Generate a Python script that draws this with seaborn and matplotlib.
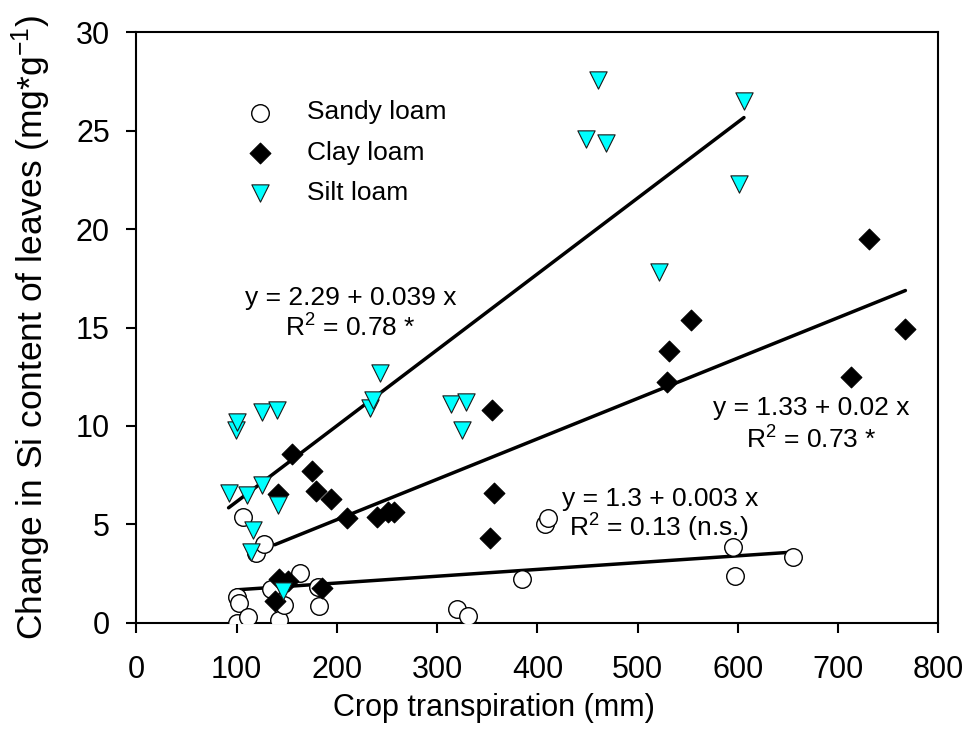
#Si content change vs crop transpiration for three soil types
import numpy as np
import pandas as pd
import matplotlib.pyplot as plt
import seaborn as sns

# values (x = crop transpiration mm, y = change in Si mg/g)
sandy_x = [100, 102, 100, 106, 111, 119, 127, 134, 142, 147, 163, 181, 182, 320, 331, 385, 408, 411, 595, 597, 655]
sandy_y = [1.3, 1.0, 0.0, 5.35, 0.3, 3.55, 4.0, 1.7, 0.15, 0.9, 2.5, 1.8, 0.85, 0.7, 0.35, 2.2, 5.0, 5.3, 3.85, 2.35, 3.35]

clay_x = [138, 142, 151, 185, 141, 155, 175, 179, 194, 210, 240, 251, 257, 353, 355, 357, 529, 531, 553, 713, 731, 767]
clay_y = [1.1, 2.2, 2.1, 1.75, 6.55, 8.55, 7.7, 6.7, 6.3, 5.3, 5.35, 5.6, 5.6, 4.3, 10.8, 6.6, 12.25, 13.8, 15.4, 12.5, 19.5, 14.9]

silt_x = [92, 99, 100, 110, 114, 116, 125, 125, 140, 141, 146, 233, 236, 243, 314, 325, 329, 448, 460, 468, 521, 601, 606]
silt_y = [6.6, 9.8, 10.2, 6.5, 3.6, 4.7, 10.7, 7.0, 10.8, 6.0, 1.6, 10.9, 11.3, 12.7, 11.1, 9.8, 11.2, 24.6, 27.6, 24.4, 17.8, 22.3, 26.5]

x_ticks = [0, 100, 200, 300, 400, 500, 600, 700, 800]
y_ticks = [0, 5, 10, 15, 20, 25, 30]

sns.set_style("ticks")
plt.rcParams['font.family'] = ['Liberation Sans', 'DejaVu Sans']
plt.rcParams['mathtext.fontset'] = 'custom'
plt.rcParams['mathtext.rm'] = 'Liberation Sans'
plt.rcParams['mathtext.it'] = 'Liberation Sans:italic'
plt.rcParams['mathtext.default'] = 'regular'
plt.rcParams['text.color'] = 'black'
plt.rcParams['axes.labelcolor'] = 'black'
plt.rcParams['xtick.color'] = 'black'
plt.rcParams['ytick.color'] = 'black'

fig, ax = plt.subplots(figsize=(9.69, 7.36), dpi=100)
fig.subplots_adjust(left=0.1407, right=0.9685, bottom=0.154, top=0.956)

# regression lines first so the markers sit on top
for xs, ys in [(sandy_x, sandy_y), (clay_x, clay_y), (silt_x, silt_y)]:
    sns.regplot(x=np.array(xs), y=np.array(ys), scatter=False, ci=None, truncate=True,
                color='black', line_kws={'linewidth': 2.5, 'zorder': 1}, ax=ax)

sns.scatterplot(x=sandy_x, y=sandy_y, marker='o', s=160, color='white', edgecolor='black',
                linewidth=1.0, label='Sandy loam', zorder=3, ax=ax)
sns.scatterplot(x=clay_x, y=clay_y, marker='D', s=112, color='black', edgecolor='black',
                linewidth=0.8, label='Clay loam', zorder=4, ax=ax)
sns.scatterplot(x=silt_x, y=silt_y, marker='v', s=155, color='#00FFFF', edgecolor='#1a1a1a',
                linewidth=0.8, label='Silt loam', zorder=5, ax=ax)

ax.set_xlim(0, 800)
ax.set_ylim(0, 30)
ax.set_xticks(x_ticks)
ax.set_yticks(y_ticks)
ax.tick_params(axis='both', direction='out', length=7, width=1.5, labelsize=22, colors='black')
ax.tick_params(axis='x', pad=16)
ax.tick_params(axis='y', pad=12)
for sp in ax.spines.values():
    sp.set_linewidth(1.5)
    sp.set_color('black')

ax.set_xlabel('Crop transpiration (mm)', fontsize=22)
ax.xaxis.set_label_coords(0.446, -0.12)
ax.set_ylabel(r'Change in Si content of leaves (mg*g$^{-1}$)', fontsize=25.5)
ax.yaxis.set_label_coords(-0.104, 0.5)

# regression equations
ax.text(214, 16.14, 'y = 2.29 + 0.039 x', ha='center', va='baseline', fontsize=19)
ax.text(214, 14.53, r'R$^2$ = 0.78 *', ha='center', va='baseline', fontsize=19)
ax.text(673, 10.55, 'y = 1.33 + 0.02 x', ha='center', va='baseline', fontsize=19)
ax.text(673, 8.86, r'R$^2$ = 0.73 *', ha='center', va='baseline', fontsize=19)
ax.text(522, 5.93, 'y = 1.3 + 0.003 x', ha='center', va='baseline', fontsize=19)
ax.text(521, 4.37, r'R$^2$ = 0.13 (n.s.)', ha='center', va='baseline', fontsize=19)

ax.legend(loc='center left', bbox_to_anchor=(0.1377, 0.796), frameon=False, fontsize=19,
          handlelength=1.0, handletextpad=1.27, labelspacing=0.62, borderpad=0,
          borderaxespad=0, scatterpoints=1)

plt.savefig('out.png', dpi=100)
